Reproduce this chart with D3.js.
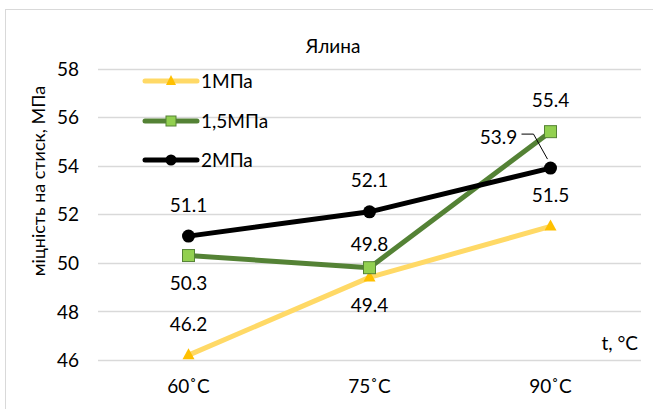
<!DOCTYPE html>
<html><head><meta charset="utf-8">
<script src="https://cdn.jsdelivr.net/npm/d3@7/dist/d3.min.js"></script>
<style>body{margin:0;background:#fff}svg{display:block}text{font-family:Lato,"Noto Sans",sans-serif;fill:#000}</style>
</head><body>
<svg id="c" width="653" height="409"></svg>
<script>
const categories = ["60˚C", "75˚C", "90˚C"];
const seriesNames = ["1МПа", "1,5МПа", "2МПа"];
const s1 = [46.2, 49.4, 51.5];
const s15 = [50.3, 49.8, 55.4];
const s2 = [51.1, 52.1, 53.9];
const yTicks = [46, 48, 50, 52, 54, 56, 58];

const FS = 19;
const svg = d3.select("#c");
svg.append("rect").attr("x",5.5).attr("y",9.5).attr("width",660).attr("height",420)
  .attr("fill","#fff").attr("stroke","#d9d9d9");

const x = d3.scaleBand().domain(categories).range([98, 641]);
const y = d3.scaleLinear().domain([46, 58]).range([360, 68.5]);

// gridlines
svg.append("g").selectAll("line").data(yTicks).join("line")
  .attr("x1",98).attr("x2",641).attr("y1",d=>Math.round(y(d))+0.5).attr("y2",d=>Math.round(y(d))+0.5)
  .attr("stroke","#d9d9d9").attr("stroke-width",1.5);

// y axis
const ya = svg.append("g").attr("transform","translate(79,0)")
  .call(d3.axisLeft(y).tickValues(yTicks).tickSize(0).tickPadding(0));
ya.select(".domain").remove();
ya.selectAll("text").attr("font-size",FS).attr("font-family","Lato").attr("dy","0.35em");

// x axis
const xa = svg.append("g").attr("transform","translate(0,386)")
  .call(d3.axisBottom(x).tickSize(0).tickPadding(0));
xa.select(".domain").remove();
xa.selectAll("text").attr("font-size",FS).attr("font-family","Lato").attr("dy","0.35em");

// titles
svg.append("text").attr("x",333).attr("y",53).attr("text-anchor","middle").attr("font-size",FS).text("Ялина");
svg.append("text").attr("transform","translate(45,181) rotate(-90)").attr("text-anchor","middle")
  .attr("font-size",18).text("міцність на стиск, МПа");
svg.append("text").attr("x",638).attr("y",350).attr("text-anchor","end").attr("font-size",FS).text("t, °C");

const cx = c => x(c) + x.bandwidth()/2;
const line = d3.line().x((d,i)=>cx(categories[i])).y(d=>y(d));

const series = [
  {name: seriesNames[0], values: s1, stroke:"#FFD966", marker:"tri", fill:"#FFC000", mstroke:"#FFC000",
   labels:[[0,-31],[0,28],[0,-31]]},
  {name: seriesNames[1], values: s15, stroke:"#548235", marker:"sq", fill:"#92D050", mstroke:"#548235",
   labels:[[0,28],[0,-23],[0,-31]]},
  {name: seriesNames[2], values: s2, stroke:"#000000", marker:"circ", fill:"#000", mstroke:"#000",
   labels:[[0,-31],[0,-31],[-52,-31]]}
];

function drawMarker(g, type, px, py, s) {
  if (type==="tri") {
    g.append("path").attr("d",`M${px},${py-7}L${px+6},${py+4}L${px-6},${py+4}Z`)
      .attr("fill",s.fill);
  } else if (type==="sq") {
    g.append("rect").attr("x",px-6).attr("y",py-6).attr("width",12).attr("height",12)
      .attr("fill",s.fill).attr("stroke",s.mstroke).attr("stroke-width",1);
  } else {
    g.append("circle").attr("cx",px).attr("cy",py).attr("r",6.5).attr("fill",s.fill);
  }
}

const plot = svg.append("g");
series.forEach(s => {
  plot.append("path").datum(s.values).attr("d",line).attr("fill","none")
    .attr("stroke",s.stroke).attr("stroke-width",5).attr("stroke-linejoin","round").attr("stroke-linecap","round");
});
series.forEach(s => {
  s.values.forEach((v,i)=> drawMarker(plot, s.marker, cx(categories[i]), y(v), s));
});

// leader line for 53.9
const lp = [cx(categories[2]), y(s2[2])];
plot.append("path").attr("d",`M${lp[0]-3},${lp[1]-9}L${lp[0]-17},${lp[1]-34}L${lp[0]-29},${lp[1]-34}`)
  .attr("fill","none").attr("stroke","#000").attr("stroke-width",1);

// data labels
series.forEach(s => {
  s.values.forEach((v,i)=>{
    const [dx,dy] = s.labels[i];
    plot.append("text").attr("x",cx(categories[i])+dx).attr("y",y(v)+dy).attr("dy","0.35em")
      .attr("text-anchor","middle").attr("font-size",FS).text(v.toFixed(1));
  });
});

// legend
const leg = svg.append("g");
series.forEach((s,i)=>{
  const ly = [81, 121, 160][i];
  leg.append("line").attr("x1",145).attr("x2",197).attr("y1",ly).attr("y2",ly)
    .attr("stroke",s.stroke).attr("stroke-width",5).attr("stroke-linecap","round");
  if (s.marker==="tri") leg.append("path").attr("d",`M171,${ly-6}L176,${ly+4}L166,${ly+4}Z`).attr("fill",s.fill);
  else if (s.marker==="sq") leg.append("rect").attr("x",166).attr("y",ly-5).attr("width",10).attr("height",10)
      .attr("fill",s.fill).attr("stroke",s.mstroke);
  else leg.append("circle").attr("cx",171).attr("cy",ly).attr("r",5.5).attr("fill",s.fill);
  leg.append("text").attr("x",201).attr("y",ly).attr("dy","0.35em").attr("font-size",FS).text(s.name);
});
</script>
</body></html>
